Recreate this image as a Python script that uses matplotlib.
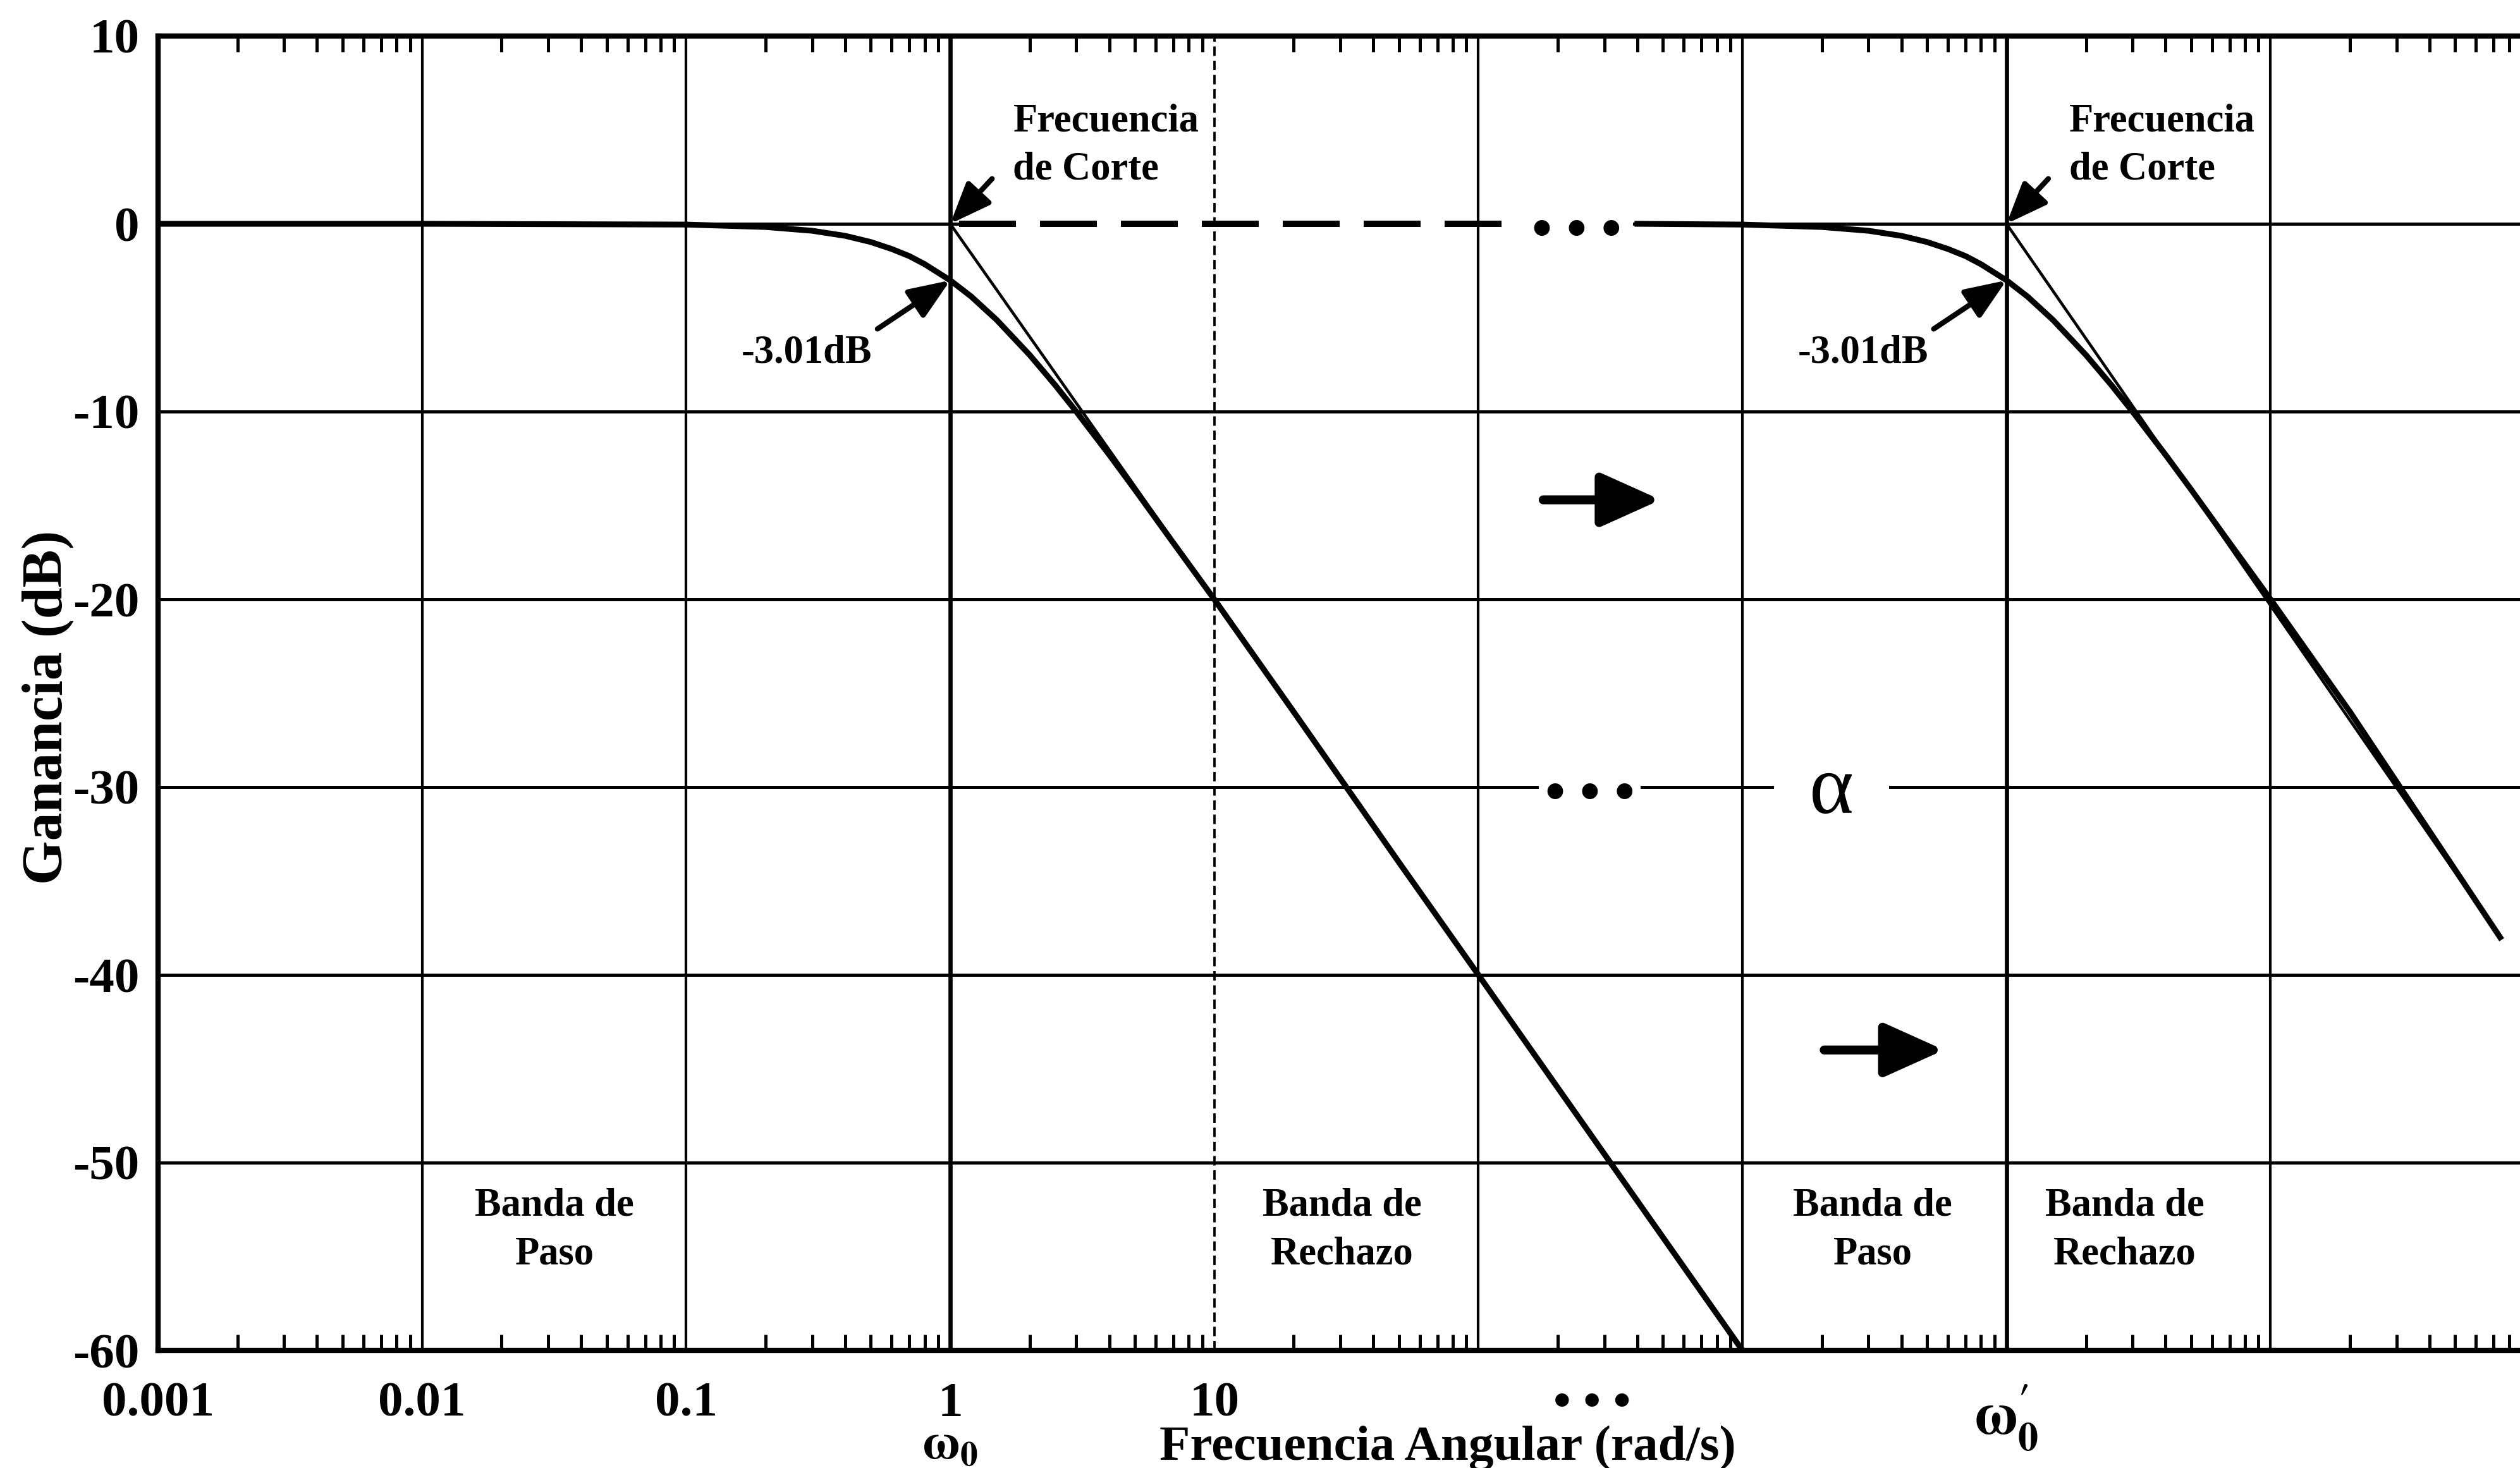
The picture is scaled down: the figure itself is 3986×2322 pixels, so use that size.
import numpy as np
import matplotlib
matplotlib.use("Agg")
import matplotlib.pyplot as plt
import matplotlib.ticker as mticker

plt.rcParams['font.family'] = ['Liberation Serif', 'DejaVu Serif']
plt.rcParams['font.weight'] = 'bold'
plt.rcParams['mathtext.fontset'] = 'stix'
plt.rcParams['axes.unicode_minus'] = False

# ---------------- data ----------------
freq1 = [0.001, 0.01, 0.1, 0.2, 0.3, 0.4, 0.5, 0.6, 0.7, 0.8, 1.0, 1.2, 1.5,
         2.0, 2.5, 3.0, 4.0, 5.0, 7.0, 10, 20, 50, 100, 1000]
gain1 = [0.0, 0.0, -0.04, -0.17, -0.37, -0.64, -0.97, -1.34, -1.72, -2.15,
         -3.01, -3.87, -5.12, -6.99, -8.60, -10.0, -12.3, -14.15, -17.0,
         -20.0, -26.0, -34.0, -40.0, -60.0]

freq2 = [400, 1000, 2000, 3000, 4000, 5000, 6000, 7000, 8000, 1e4, 1.2e4,
         1.5e4, 2e4, 2.5e4, 3e4, 4e4, 5e4, 7e4, 1e5, 2e5, 7.4e5]
gain2 = [0.0, -0.04, -0.17, -0.37, -0.64, -0.97, -1.34, -1.72, -2.15, -3.01,
         -3.87, -5.12, -6.99, -8.60, -10.0, -12.3, -14.15, -17.0, -20.0,
         -26.0, -38.0]

asym1_freq = [1, 1000]
asym1_gain = [0, -60]
asym2_freq = [1e4, 7.4e5]
asym2_gain = [0, -38]

ref_freq = [1.08, 145]
ref_gain = [0, 0]

grid_x = [1e-2, 1e-1, 1, 10, 1e2, 1e3, 1e4, 1e5]
grid_y = [-50, -40, -30, -20, -10, 0]

xtick_pos = [1e-3, 1e-2, 1e-1, 1, 10, 270, 1e4]
xtick_labels = ['0.001', '0.01', '0.1', '1\n' + r'$\mathbf{\omega_{0}}$', '10',
                '\u2022 \u2022 \u2022', r"$\mathbf{\omega^{\prime}_{0}}$"]
ytick_pos = [10, 0, -10, -20, -30, -40, -50, -60]
ytick_labels = ['10', '0', '-10', '-20', '-30', '-40', '-50', '-60']

cutoffs = [1, 1e4]
band_x = [0.0317, 30.5, 3110, 28000]
band_text = ['Banda de\nPaso', 'Banda de\nRechazo', 'Banda de\nPaso', 'Banda de\nRechazo']
band_y = -53.6

shift_arrows = [((176, -14.7), (490, -14.7)), ((2040, -44.0), (5800, -44.0))]

# ---------------- figure ----------------
W, H = 3987, 2322
fig = plt.figure(figsize=(W / 300, H / 300), dpi=300)
ax = fig.add_axes([250 / W, 186 / H, (W - 250) / W, (2136 - 57) / H])
ax.set_xscale('log')
ax.set_xlim(1e-3, 10 ** 5.947)
ax.set_ylim(-60, 10)

# grid lines
for gy in grid_y:
    ax.axhline(gy, color='black', lw=1.2, zorder=1)
for gx in grid_x:
    if gx == 10:
        ax.axvline(gx, color='black', lw=0.9, ls=(0, (4, 2)), zorder=1)
    elif gx in cutoffs:
        ax.axvline(gx, color='black', lw=1.6, zorder=1)
    else:
        ax.axvline(gx, color='black', lw=1.0, zorder=1)

# curves
ax.plot(freq1, gain1, color='black', lw=2.2, zorder=3, solid_capstyle='butt')
ax.plot(freq2, gain2, color='black', lw=2.2, zorder=3)
ax.plot(asym1_freq, asym1_gain, color='black', lw=1.1, zorder=3)
ax.plot(asym2_freq, asym2_gain, color='black', lw=1.1, zorder=3)
ax.plot(ref_freq, ref_gain, color='black', lw=2.4, dashes=(9, 3.8),
        gapcolor='white', zorder=2, solid_capstyle='butt', dash_capstyle='butt')

fs_ann = 15
for f in cutoffs:
    ax.text(1.73 * f, 4.15, 'Frecuencia\nde Corte', ha='left', va='center',
            fontsize=fs_ann, fontweight='bold', zorder=5, linespacing=1.4)
    ax.annotate('', xy=(f, 0), xytext=(1.44 * f, 2.4),
                arrowprops=dict(arrowstyle='-|>,head_length=0.55,head_width=0.22',
                                lw=2.0, color='black', mutation_scale=24,
                                shrinkA=0, shrinkB=0), zorder=5)
    ax.text(0.286 * f, -6.9, '-3.01dB', ha='center', va='center',
            fontsize=fs_ann, fontweight='bold', zorder=5)
    ax.annotate('', xy=(f, -3.01), xytext=(0.53 * f, -5.6),
                arrowprops=dict(arrowstyle='-|>,head_length=0.55,head_width=0.22',
                                lw=2.0, color='black', mutation_scale=24,
                                shrinkA=0, shrinkB=0), zorder=5)

for bx, bt in zip(band_x, band_text):
    ax.text(bx, band_y, bt, ha='center', va='center', fontsize=fs_ann,
            fontweight='bold', multialignment='center', linespacing=1.45, zorder=5)

for (x0, y0), (x1, y1) in shift_arrows:
    ax.annotate('', xy=(x1, y1), xytext=(x0, y0),
                arrowprops=dict(arrowstyle='-|>,head_length=0.8,head_width=0.36',
                                lw=3.4, color='black', mutation_scale=24,
                                shrinkA=0, shrinkB=0), zorder=5)

# dots and alpha
ax.text(235, -0.5, '\u2022 \u2022 \u2022', ha='center', va='center', fontsize=22,
        fontweight='bold', zorder=4,
        bbox=dict(boxstyle='square,pad=0.2', fc='white', ec='none'))
ax.text(264, -30.5, '\u2022 \u2022 \u2022', ha='center', va='center', fontsize=22,
        fontweight='bold', zorder=4,
        bbox=dict(boxstyle='square,pad=0.1', fc='white', ec='none'))
ax.text(2174, -30.3, '\u03b1', ha='center', va='center', fontsize=32,
        fontweight='normal', zorder=4,
        bbox=dict(boxstyle='square,pad=0.42', fc='white', ec='none'))

# ticks
ax.set_xticks(xtick_pos, xtick_labels)
ax.set_yticks(ytick_pos, ytick_labels)
ax.xaxis.set_minor_locator(mticker.LogLocator(base=10, subs=np.arange(2, 10), numticks=100))
ax.xaxis.set_minor_formatter(mticker.NullFormatter())
ax.tick_params(axis='x', which='minor', direction='in', length=6, width=1.2,
               top=True, bottom=True)
ax.tick_params(axis='x', which='major', length=0, pad=12, labelsize=19)
ax.tick_params(axis='y', which='major', length=0, pad=7, labelsize=19)
for lab in ax.get_xticklabels() + ax.get_yticklabels():
    lab.set_fontweight('bold')
for t in ax.get_xticklabels():
    txt = t.get_text()
    if txt.startswith('$'):
        t.set_fontsize(22)
    if '\n' in txt:
        t.set_linespacing(0.95)

for side in ['left', 'top', 'bottom']:
    ax.spines[side].set_linewidth(2.0)
ax.spines['right'].set_visible(False)

fig.text(2290 / W, 1 - 2290 / H, 'Frecuencia Angular (rad/s)', ha='center',
         va='center', fontsize=19, fontweight='bold')
fig.text(76 / W, 1 - 1119 / H, 'Ganancia (dB)', ha='center', va='center',
         rotation=90, fontsize=21.5, fontweight='bold')

fig.savefig('out.png', dpi=300, facecolor='white')
